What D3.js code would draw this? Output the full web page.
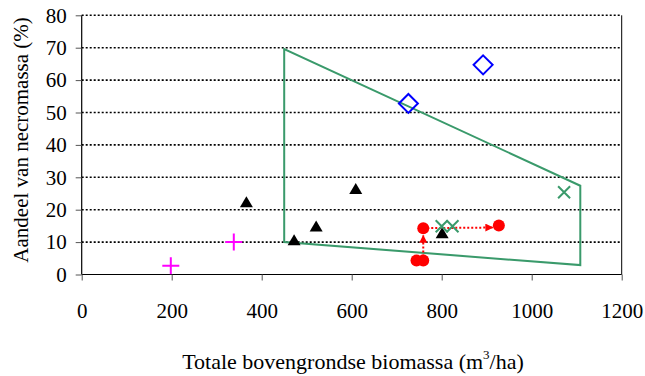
<!DOCTYPE html>
<html>
<head>
<meta charset="utf-8">
<script src="https://cdn.jsdelivr.net/npm/d3@7"></script>
<style>
  body { margin: 0; background: #fff; }
  svg text { font-family: 'Liberation Serif', serif; }
</style>
</head>
<body>
<svg id="chart" width="645" height="376"></svg>
<script>
// data
const xTicks = [0, 200, 400, 600, 800, 1000, 1200];
const yTicks = [0, 10, 20, 30, 40, 50, 60, 70, 80];

const plusPts = [[198, 2.7], [338, 10.0]];
const trianglePts = [[366, 22.3], [472, 10.6], [521, 14.8], [609, 26.4], [801, 12.7]];
const crossPts = [[800, 14.9], [824, 14.9], [1072, 25.4]];
const circlePts = [[759, 14.3], [744, 4.3], [759, 4.3], [927, 15.1]];
const diamondPts = [[726, 52.8], [892, 64.7]];
const hullPts = [[450, 69.6], [450, 10.0], [1108, 2.9], [1108, 27.4]];
// dotted arrows: from, to
const arrows = [
  [[759, 4.3], [759, 12.0]],
  [[759, 14.3], [913, 14.5]]
];

const margin = {top: 15.3, right: 24, bottom: 101.5, left: 81.7};
const W = 645, H = 376;
const width = W - margin.left - margin.right;
const height = H - margin.top - margin.bottom;

const svg = d3.select('#chart');
const g = svg.append('g')
  .attr('transform', 'translate(' + margin.left + ',' + margin.top + ')');

const x = d3.scaleLinear().domain([0, 1200]).range([0, 540]);
const y = d3.scaleLinear().domain([0, 80]).range([height, 0]);

// gridlines
g.selectAll('line.grid')
  .data(yTicks.filter(d => d > 0))
  .enter()
  .append('line')
  .attr('x1', 0).attr('x2', x(1200))
  .attr('y1', d => y(d)).attr('y2', d => y(d))
  .attr('stroke', '#000')
  .attr('stroke-width', 1.6)
  .attr('stroke-dasharray', '2,2');

// right border
g.append('line')
  .attr('x1', x(1200)).attr('x2', x(1200))
  .attr('y1', y(80)).attr('y2', y(0))
  .attr('stroke', '#000').attr('stroke-width', 1);

// axes
const xAxis = g.append('g')
  .attr('transform', 'translate(0,' + y(0) + ')')
  .call(d3.axisBottom(x).tickValues(xTicks).tickSize(6).tickPadding(23).tickFormat(d3.format('d')));
const yAxis = g.append('g')
  .call(d3.axisLeft(y).tickValues(yTicks).tickSize(6).tickPadding(9));
[xAxis, yAxis].forEach(a => {
  a.attr('font-family', 'Liberation Serif').attr('font-size', 21);
  a.select('.domain').attr('stroke', '#000').attr('stroke-width', 1.2);
  a.selectAll('.tick line').attr('stroke', '#555');
  a.selectAll('text').attr('fill', '#000');
});
xAxis.select('.domain').attr('d', 'M0,0H' + x(1200));
yAxis.select('.domain').attr('d', 'M0,' + y(0) + 'V' + y(80));

// hull polygon
g.append('path')
  .datum(hullPts)
  .attr('d', d => d3.line().x(p => x(p[0])).y(p => y(p[1]))(d) + 'Z')
  .attr('fill', 'none')
  .attr('stroke', '#3a9a6b')
  .attr('stroke-width', 2);

// arrows
svg.append('defs').append('marker')
  .attr('id', 'ah')
  .attr('viewBox', '0 0 10 10')
  .attr('refX', 9).attr('refY', 5)
  .attr('markerWidth', 4).attr('markerHeight', 4)
  .attr('orient', 'auto')
  .append('path')
  .attr('d', 'M0,0L10,5L0,10Z')
  .attr('fill', '#ff0000');

g.selectAll('line.arrow')
  .data(arrows)
  .enter()
  .append('line')
  .attr('x1', d => x(d[0][0])).attr('y1', d => y(d[0][1]))
  .attr('x2', d => x(d[1][0])).attr('y2', d => y(d[1][1]))
  .attr('stroke', '#ff0000')
  .attr('stroke-width', 2)
  .attr('stroke-dasharray', '2,2')
  .attr('marker-end', 'url(#ah)');

// circles
g.selectAll('circle.pt')
  .data(circlePts)
  .enter()
  .append('circle')
  .attr('cx', d => x(d[0])).attr('cy', d => y(d[1]))
  .attr('r', 6)
  .attr('fill', '#ff0000');

// triangles
g.selectAll('path.tri')
  .data(trianglePts)
  .enter()
  .append('path')
  .attr('d', d => {
    const cx = x(d[0]), cy = y(d[1]);
    return 'M' + cx + ',' + (cy - 6) + 'L' + (cx + 6.5) + ',' + (cy + 5) + 'L' + (cx - 6.5) + ',' + (cy + 5) + 'Z';
  })
  .attr('fill', '#000');

// crosses
g.selectAll('path.cross')
  .data(crossPts)
  .enter()
  .append('path')
  .attr('d', d => {
    const cx = x(d[0]), cy = y(d[1]), s = 6;
    return 'M' + (cx - s) + ',' + (cy - s) + 'L' + (cx + s) + ',' + (cy + s) +
           'M' + (cx + s) + ',' + (cy - s) + 'L' + (cx - s) + ',' + (cy + s);
  })
  .attr('stroke', '#3a9a6b')
  .attr('stroke-width', 2)
  .attr('fill', 'none');

// plus
g.selectAll('path.plus')
  .data(plusPts)
  .enter()
  .append('path')
  .attr('d', d => {
    const cx = x(d[0]), cy = y(d[1]), s = 8.5;
    return 'M' + (cx - s) + ',' + cy + 'H' + (cx + s) + 'M' + cx + ',' + (cy - s) + 'V' + (cy + s);
  })
  .attr('stroke', '#ff00ff')
  .attr('stroke-width', 2)
  .attr('fill', 'none');

// diamonds
g.selectAll('path.dia')
  .data(diamondPts)
  .enter()
  .append('path')
  .attr('d', d => {
    const cx = x(d[0]), cy = y(d[1]), s = 9.5;
    return 'M' + cx + ',' + (cy - s) + 'L' + (cx + s) + ',' + cy + 'L' + cx + ',' + (cy + s) + 'L' + (cx - s) + ',' + cy + 'Z';
  })
  .attr('stroke', '#0000ff')
  .attr('stroke-width', 2)
  .attr('fill', 'none');

// axis titles
const xt = svg.append('text')
  .attr('x', 353)
  .attr('y', 369)
  .attr('text-anchor', 'middle')
  .attr('font-size', 22)
  .attr('fill', '#000');
xt.append('tspan').text('Totale bovengrondse biomassa (m');
xt.append('tspan').attr('dy', -10).attr('font-size', 13).text('3');
xt.append('tspan').attr('dy', 10).text('/ha)');

svg.append('text')
  .attr('transform', 'translate(28,' + (margin.top + height / 2 - 5) + ') rotate(-90)')
  .attr('text-anchor', 'middle')
  .attr('font-size', 21)
  .attr('fill', '#000')
  .text('Aandeel van necromassa (%)');
</script>
</body>
</html>
